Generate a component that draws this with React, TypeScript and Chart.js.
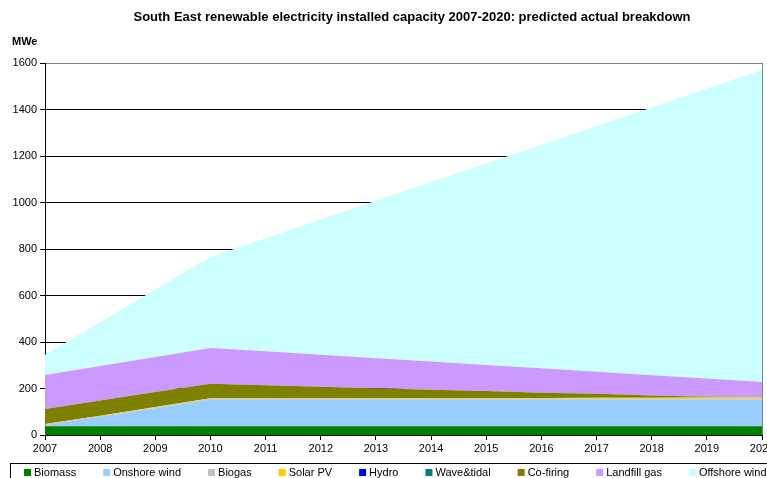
import React, { useEffect, useRef } from "react";
import { Chart, registerables } from "chart.js";

Chart.register(...registerables);

const years = ["2007","2008","2009","2010","2011","2012","2013","2014","2015","2016","2017","2018","2019","2020"];
const biomass = [38,38,38,38,38,38,38,38,38,38,38,38,38,38];
const onshoreWind = [5,41,77,115,115,115,115,115,115,115,115,115,115,115];
const biogas = [3,3,3,3,3,3,3,3,3,3,3,3,3,3];
const solarPV = [1,1,2,2,2,2,2,3,3,3,4,4,5,6];
const hydro = [0,0,0,0,0,0,0,0,0,0,0,0,0,0];
const waveTidal = [0,0,0,0,0,0,0,0,0,0,0,0,0,0];
const coFiring = [65,65,65,62,56,49,43,36,30,23,17,10,4,0];
const landfillGas = [146,149,151,154,146,138,129,121,112,105,95,87,78,66];
const offshoreWind = [87,188,290,392,486,582,677,772,867,961,1057,1152,1247,1342];

const seriesNames = ["Biomass","Onshore wind","Biogas","Solar PV","Hydro","Wave&tidal","Co-firing","Landfill gas","Offshore wind"];
const seriesData = [biomass, onshoreWind, biogas, solarPV, hydro, waveTidal, coFiring, landfillGas, offshoreWind];
const seriesColors = ["#008000","#99CCFF","#C0C0C0","#FFCC00","#0000FF","#008080","#808000","#CC99FF","#CCFFFF"];

const titleText = "South East renewable electricity installed capacity 2007-2020: predicted actual breakdown";
const unitText = "MWe";
const FONT = "'Liberation Sans', Arial, sans-serif";

export default function App() {
  const ref = useRef<HTMLCanvasElement | null>(null);
  useEffect(() => {
    const canvas = ref.current;
    if (!canvas) return;
    const decor = {
      id: "decor",
      afterDraw(chart: any) {
        const ctx = chart.ctx;
        const a = chart.chartArea;
        ctx.save();
        ctx.strokeStyle = "#808080";
        ctx.lineWidth = 1;
        ctx.beginPath();
        ctx.moveTo(Math.round(a.right) + 0.5, a.top);
        ctx.lineTo(Math.round(a.right) + 0.5, a.bottom);
        ctx.stroke();
        ctx.fillStyle = "#000";
        ctx.font = `bold 13px ${FONT}`;
        ctx.textAlign = "center";
        ctx.textBaseline = "middle";
        ctx.fillText(titleText, 412, 17);
        ctx.textAlign = "left";
        ctx.font = `bold 11px ${FONT}`;
        ctx.fillText(unitText, 12, 42);
        ctx.strokeStyle = "#000";
        ctx.strokeRect(10.5, 463.5, 820, 30);
        ctx.font = `11px ${FONT}`;
        let x = 24;
        const y = 472;
        chart.data.datasets.forEach((ds: any) => {
          ctx.fillStyle = ds.backgroundColor;
          ctx.fillRect(x, y - 3, 7, 7);
          ctx.fillStyle = "#000";
          ctx.fillText(ds.label, x + 10, y + 1);
          x = x + 10 + ctx.measureText(ds.label).width + 27;
        });
        ctx.restore();
      },
    };
    const chart = new Chart(canvas, {
      type: "line",
      data: {
        labels: years,
        datasets: seriesData.map((d, i) => ({
          label: seriesNames[i],
          data: d,
          backgroundColor: seriesColors[i],
          borderColor: seriesColors[i],
          borderWidth: 0,
          pointRadius: 0,
          fill: i === 0 ? "origin" : "-1",
          tension: 0,
        })),
      },
      options: {
        responsive: false,
        animation: false,
        events: [],
        layout: { padding: { top: 63, right: 38, bottom: 40, left: 0 } },
        plugins: { legend: { display: false }, tooltip: { enabled: false }, title: { display: false } },
        scales: {
          x: {
            offset: false,
            grid: { display: true, drawOnChartArea: false, drawTicks: true, tickLength: 5, tickColor: "#000" },
            border: { display: true, color: "#000" },
            ticks: { color: "#000", font: { family: FONT, size: 11 }, maxRotation: 0, autoSkip: false, padding: 2 },
            afterFit: (s: any) => { s.height = 25; },
          },
          y: {
            stacked: true,
            min: 0,
            max: 1600,
            ticks: {
              stepSize: 200,
              color: "#000",
              font: { family: FONT, size: 11 },
              padding: 3,
              callback: (v: any) => String(v),
            },
            grid: {
              color: (c: any) => (c.tick && c.tick.value === 1600 ? "#808080" : "#000"),
              tickColor: "#000",
              tickLength: 5,
            },
            border: { display: true, color: "#000" },
            afterFit: (s: any) => { s.width = 45; },
          },
        },
      },
      plugins: [decor],
    });
    return () => chart.destroy();
  }, []);
  return (
    <div style={{ position: "absolute", left: 0, top: 0, width: 800, height: 500, background: "#fff" }}>
      <canvas ref={ref} width={800} height={500} style={{ width: 800, height: 500, display: "block" }} />
    </div>
  );
}
